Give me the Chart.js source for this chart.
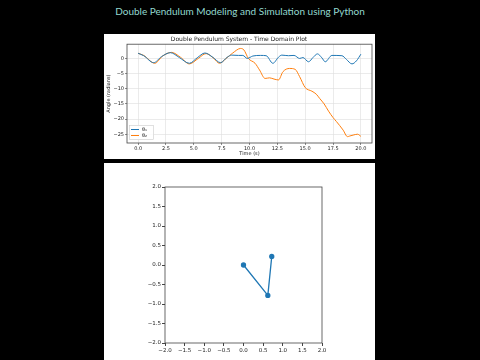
<!DOCTYPE html>
<html>
<head>
<meta charset="utf-8">
<script src="https://cdn.jsdelivr.net/npm/chart.js@4.4.1/dist/chart.umd.min.js"></script>
<style>
body{margin:0;background:#000;width:480px;height:360px;overflow:hidden;position:relative}
#title{position:absolute;top:5px;left:0;width:480px;text-align:center;color:#93d8cf;font:10px Lato, sans-serif}
.panel{position:absolute;left:104px;width:271px;background:#fff}
canvas{display:block}
</style>
</head>
<body>
<div id="title">Double Pendulum Modeling and Simulation using Python</div>
<div class="panel" style="top:34px;height:125px"><canvas id="timeChart" width="271" height="125"></canvas></div>
<div class="panel" style="top:163px;height:197px"><canvas id="pendChart" width="271" height="197"></canvas></div>
<script>
// time domain data
var t1 = [0, 0.5, 1.4, 2.1, 2.9, 3.7, 4.6, 5.3, 6.0, 6.7, 7.4, 8.0, 8.4, 9.0, 9.4, 9.8, 10.3, 11.0, 11.5, 12.1, 12.6, 12.9, 13.5, 14.0, 14.5, 14.8, 15.3, 15.7, 16.1, 16.5, 16.8, 17.4, 18.3, 18.7, 19.2, 19.6, 20.0];
var theta1 = [1.7, 0.9, -1.4, 0.6, 1.9, 0.3, -1.6, 0.2, 1.8, 0.4, -1.4, 0.4, 1.1, 1.0, 1.0, 0.0, 0.8, 1.0, 0.9, -1.6, 0.4, 1.1, 0.9, 1.0, 0.0, 0.3, -1.1, 0.3, 1.5, 0.2, -1.1, 1.0, 0.9, -0.3, -1.8, -0.8, 1.4];
var t2 = [0, 0.5, 1.5, 2.2, 3.0, 3.8, 4.6, 5.4, 6.1, 6.8, 7.3, 7.9, 8.5, 9.2, 9.5, 9.9, 10.5, 10.9, 11.4, 11.8, 12.2, 12.6, 13.0, 13.6, 14.1, 14.5, 15.0, 15.6, 16.0, 16.3, 16.7, 17.1, 17.5, 17.8, 18.4, 18.8, 19.0, 19.3, 19.7, 20.0];
var theta2 = [1.7, 1.0, -1.6, 0.8, 2.0, 0.4, -1.8, 0.0, 1.6, 0.0, -1.6, 0.0, 1.8, 3.3, 2.8, 0.0, -1.6, -3.8, -6.6, -6.4, -6.8, -7.1, -4.4, -3.3, -3.6, -6.0, -9.6, -10.8, -11.8, -13.2, -15.0, -17.4, -19.5, -20.8, -23.6, -25.8, -25.6, -25.3, -25.0, -25.7];
var timeTicks = [0, 2.5, 5, 7.5, 10, 12.5, 15, 17.5, 20];
var angleTicks = [0, -5, -10, -15, -20, -25];

// pendulum snapshot: pivot, bob 1, bob 2
var pendX = [0, 0.62, 0.72];
var pendY = [0, -0.78, 0.22];
var pendTicks = [-2, -1.5, -1, -0.5, 0, 0.5, 1, 1.5, 2];

Chart.defaults.font.family = 'DejaVu Sans';
Chart.defaults.color = '#222';

function fmt(v, d){
  var s = Math.abs(v).toFixed(d);
  return v < 0 ? '\u2212' + s : s;
}
function pts(xs, ys){
  return xs.map(function(x, i){ return {x: x, y: ys[i]}; });
}
function setTicks(list){
  return function(axis){ axis.ticks = list.map(function(v){ return {value: v}; }); };
}

var frame = {
  id: 'frame',
  afterDatasetsDraw: function(chart){
    var a = chart.chartArea, c = chart.ctx;
    c.save();
    c.strokeStyle = '#444';
    c.lineWidth = 0.8;
    c.strokeRect(a.left, a.top, a.right - a.left, a.bottom - a.top);
    c.restore();
  }
};

var boxLegend = {
  id: 'boxLegend',
  afterDraw: function(chart){
    var a = chart.chartArea, c = chart.ctx;
    var ds = chart.data.datasets;
    var w = 25, h = 15, x = a.left + 2, y = a.bottom - 3 - h;
    c.save();
    c.fillStyle = 'rgba(255,255,255,0.85)';
    c.strokeStyle = '#ccc';
    c.lineWidth = 0.6;
    c.fillRect(x, y, w, h);
    c.strokeRect(x + 0.5, y + 0.5, w - 1, h - 1);
    c.font = '5px DejaVu Sans';
    c.textBaseline = 'middle';
    ds.forEach(function(d, i){
      var ly = y + 4.5 + i * 6;
      c.strokeStyle = d.borderColor;
      c.lineWidth = 1;
      c.beginPath();
      c.moveTo(x + 2, ly);
      c.lineTo(x + 10, ly);
      c.stroke();
      c.fillStyle = '#222';
      c.fillText(d.label, x + 13, ly);
    });
    c.restore();
  }
};

new Chart(document.getElementById('timeChart'), {
  type: 'line',
  data: {
    datasets: [
      {label: '\u03b8\u2081', data: pts(t1, theta1), borderColor: '#1f77b4', borderWidth: 1, pointRadius: 0, cubicInterpolationMode: 'monotone'},
      {label: '\u03b8\u2082', data: pts(t2, theta2), borderColor: '#ff7f0e', borderWidth: 1, pointRadius: 0, cubicInterpolationMode: 'monotone'}
    ]
  },
  options: {
    responsive: false,
    animation: false,
    layout: {padding: {left: 2, right: 3, top: 0, bottom: 2}},
    plugins: {
      legend: {display: false},
      tooltip: {enabled: false},
      title: {display: true, text: 'Double Pendulum System - Time Domain Plot', color: '#222',
        font: {size: 6, weight: 'normal'}, padding: {top: 2, bottom: 1}}
    },
    scales: {
      x: {
        type: 'linear', min: -1, max: 21,
        afterBuildTicks: setTicks(timeTicks),
        afterFit: function(s){ s.height = 14; },
        ticks: {font: {size: 5}, padding: 1, maxRotation: 0, callback: function(v){ return fmt(v, 1); }},
        grid: {color: '#dedede', lineWidth: 0.6, tickColor: '#444', tickLength: 2},
        border: {display: false},
        title: {display: true, text: 'Time (s)', font: {size: 5}, padding: 0}
      },
      y: {
        min: -27.9, max: 4.7,
        afterBuildTicks: setTicks(angleTicks),
        afterFit: function(s){ s.width = 21; },
        ticks: {font: {size: 5}, padding: 1, callback: function(v){ return fmt(v, 0); }},
        grid: {color: '#dedede', lineWidth: 0.6, tickColor: '#444', tickLength: 2},
        border: {display: false},
        title: {display: true, text: 'Angle (radians)', font: {size: 5}, padding: 0}
      }
    }
  },
  plugins: [frame, boxLegend]
});

new Chart(document.getElementById('pendChart'), {
  type: 'scatter',
  data: {
    datasets: [{
      data: pts(pendX, pendY), showLine: true,
      borderColor: '#1f77b4', borderWidth: 1.3,
      pointRadius: 2, pointBackgroundColor: '#1f77b4', pointBorderColor: '#1f77b4'
    }]
  },
  options: {
    responsive: false,
    animation: false,
    layout: {padding: {left: 41, right: 53, top: 24, bottom: 0}},
    plugins: {legend: {display: false}, tooltip: {enabled: false}},
    scales: {
      x: {
        min: -2, max: 2,
        afterBuildTicks: setTicks(pendTicks),
        afterFit: function(s){ s.height = 17; },
        ticks: {font: {size: 5.5}, padding: 1, maxRotation: 0, callback: function(v){ return fmt(v, 1); }},
        grid: {drawOnChartArea: false, tickColor: '#444', tickLength: 3},
        border: {display: false}
      },
      y: {
        min: -2, max: 2,
        afterBuildTicks: setTicks(pendTicks),
        afterFit: function(s){ s.width = 20; },
        ticks: {font: {size: 5.5}, padding: 1, callback: function(v){ return fmt(v, 1); }},
        grid: {drawOnChartArea: false, tickColor: '#444', tickLength: 3},
        border: {display: false}
      }
    }
  },
  plugins: [frame]
});
</script>
</body>
</html>
